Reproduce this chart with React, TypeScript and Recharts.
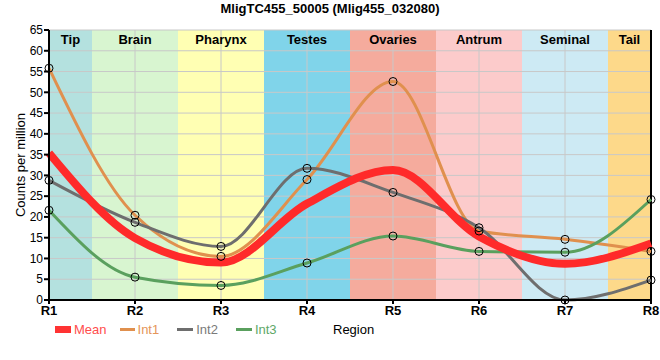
import React from "react";
import {
  LineChart, Line, XAxis, YAxis, ReferenceArea, ReferenceLine,
} from "recharts";

const regions = [1, 2, 3, 4, 5, 6, 7, 8];
const meanVals = [35.4, 14.9, 9.0, 23.2, 31.3, 15.3, 8.7, 13.6];
const int1Vals = [55.8, 20.4, 10.5, 29.0, 52.6, 16.6, 14.6, 11.7];
const int2Vals = [28.8, 18.7, 12.9, 31.7, 25.9, 17.4, 0.0, 4.8];
const int3Vals = [21.6, 5.5, 3.5, 8.9, 15.4, 11.7, 11.5, 24.2];

const tissues = ["Tip", "Brain", "Pharynx", "Testes", "Ovaries", "Antrum", "Seminal", "Tail"];
const tissueColors = ["#b4e1df", "#d8f5d0", "#ffffb3", "#80d4ea", "#f5ab9d", "#fccbcb", "#cdeaf4", "#fdd98a"];
const yTicks = [0, 5, 10, 15, 20, 25, 30, 35, 40, 45, 50, 55, 60, 65];

const data = regions.map((r, i) => ({
  r,
  Mean: meanVals[i],
  Int1: int1Vals[i],
  Int2: int2Vals[i],
  Int3: int3Vals[i],
}));

const font = "'Liberation Sans', Arial, sans-serif";
const dot = { r: 4, stroke: "#000", strokeWidth: 1, fill: "none" };

export default function App() {
  return (
    <div style={{ position: "absolute", left: 0, top: 0, width: 660, height: 360, fontFamily: font }}>
      <div style={{ position: "absolute", top: 1, width: 660, textAlign: "center", fontSize: 13, fontWeight: "bold" }}>
        MligTC455_50005 (Mlig455_032080)
      </div>
      <LineChart width={660} height={360} data={data} margin={{ top: 30, right: 9, left: 0, bottom: 40 }}>
        {tissues.map((t, i) => (
          <ReferenceArea
            key={t}
            x1={Math.max(1, regions[i] - 0.5)}
            x2={Math.min(8, regions[i] + 0.5)}
            y1={0}
            y2={65}
            fill={tissueColors[i]}
            fillOpacity={1}
            stroke="none"
            label={{ value: t, position: "insideTop", offset: 5, fill: "#000", fontWeight: "bold", fontSize: 13 }}
          />
        ))}
        {yTicks.slice(1).map((v) => (
          <ReferenceLine key={"h" + v} y={v} stroke="#c8c8c8" strokeWidth={1} />
        ))}
        {regions.slice(1, 7).map((v) => (
          <ReferenceLine key={"v" + v} x={v} stroke="#c8c8c8" strokeWidth={1} />
        ))}
        <ReferenceLine x={8} stroke="#000" strokeWidth={2} />
        <XAxis
          dataKey="r"
          type="number"
          domain={[1, 8]}
          ticks={regions}
          tickFormatter={(v) => "R" + v}
          height={20}
          stroke="#000"
          strokeWidth={2}
          tickSize={4}
          tick={{ fill: "#000", fontWeight: "bold", fontSize: 13 }}
          interval={0}
        />
        <YAxis
          domain={[0, 65]}
          ticks={yTicks}
          width={49}
          stroke="#000"
          strokeWidth={2}
          tickSize={5}
          tickMargin={1}
          interval={0}
          tick={{ fill: "#000", fontSize: 12 }}
          label={{ value: "Counts per million", angle: -90, position: "insideLeft", offset: 20, style: { textAnchor: "middle", fontSize: 13, fill: "#000" } }}
        />
        <Line type="monotone" dataKey="Int1" stroke="#e0904e" strokeWidth={3} dot={dot} isAnimationActive={false} />
        <Line type="monotone" dataKey="Int2" stroke="#6e6e6e" strokeWidth={3} dot={dot} isAnimationActive={false} />
        <Line type="monotone" dataKey="Int3" stroke="#5aa05e" strokeWidth={3} dot={dot} isAnimationActive={false} />
        <Line type="monotone" dataKey="Mean" stroke="#ff2a2a" strokeWidth={8} dot={false} isAnimationActive={false} />
      </LineChart>
      <div style={{ position: "absolute", top: 322, left: 55, fontSize: 13, display: "flex", alignItems: "center", whiteSpace: "nowrap" }}>
        <span style={{ display: "inline-block", width: 16, height: 7, background: "#ff3333", marginRight: 3 }} />
        <span style={{ color: "#ff4d4d", marginRight: 13 }}>Mean</span>
        <span style={{ display: "inline-block", width: 15, height: 3, background: "#e0904e", marginRight: 3 }} />
        <span style={{ color: "#e5955a", marginRight: 18 }}>Int1</span>
        <span style={{ display: "inline-block", width: 16, height: 3, background: "#6e6e6e", marginRight: 3 }} />
        <span style={{ color: "#7a7a7a", marginRight: 18 }}>Int2</span>
        <span style={{ display: "inline-block", width: 16, height: 3, background: "#5aa05e", marginRight: 3 }} />
        <span style={{ color: "#60a868" }}>Int3</span>
      </div>
      <div style={{ position: "absolute", top: 322, left: 333, fontSize: 13, color: "#000" }}>Region</div>
    </div>
  );
}
